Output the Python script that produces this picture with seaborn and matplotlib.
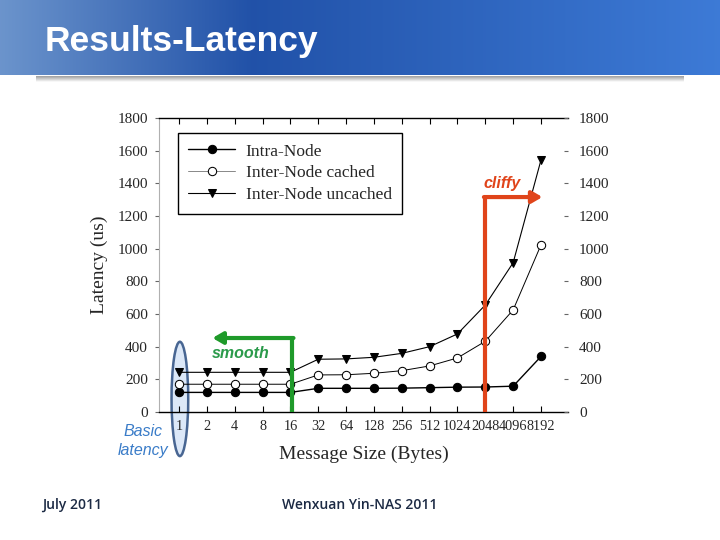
"""
Results-Latency slide: latency vs message size for intra-node and inter-node
transfers, with the slide header, footer and hand-drawn annotations.
"""

import numpy as np
import pandas as pd
import matplotlib
matplotlib.use('Agg')
import matplotlib.pyplot as plt
from matplotlib.patches import Ellipse
import seaborn as sns

# Data
SIZES = ['1', '2', '4', '8', '16', '32', '64', '128', '256', '512',
         '1024', '2048', '4096', '8192']
INTRA_NODE = [120, 120, 120, 120, 120, 145, 145, 145, 146, 149, 152, 153, 158, 340]
INTER_CACHED = [170, 170, 170, 170, 170, 227, 228, 237, 253, 282, 331, 433, 625, 1023]
INTER_UNCACHED = [243, 243, 243, 243, 243, 323, 325, 335, 359, 400, 478, 655, 914, 1543]
Y_TICKS = [0, 200, 400, 600, 800, 1000, 1200, 1400, 1600, 1800]

SERIF = ['Liberation Serif', 'DejaVu Serif']
SANS = ['Liberation Sans', 'DejaVu Sans']

sns.set_style('white')
plt.rcParams['font.family'] = SERIF

fig = plt.figure(figsize=(7.2, 5.4), dpi=100)

# Header band (blue gradient + grey shadow)
hdr = fig.add_axes([0, 1 - 75 / 540, 1, 75 / 540])
grad = np.linspace(0, 1, 256)
left = np.array([0.42, 0.58, 0.80])
mid = np.array([0.13, 0.32, 0.66])
right = np.array([0.24, 0.48, 0.84])
cols = np.where(grad[:, None] < 0.35,
                left + (mid - left) * (grad[:, None] / 0.35),
                mid + (right - mid) * ((grad[:, None] - 0.35) / 0.65))
hdr.imshow(cols[None, :, :], aspect='auto', extent=[0, 1, 0, 1])
hdr.set_axis_off()
shadow = fig.add_axes([0.05, 1 - 82 / 540, 0.9, 6 / 540])
sh = np.linspace(0.62, 1.0, 32)
shadow.imshow(np.repeat(sh[:, None], 2, axis=1)[:, :, None].repeat(3, axis=2),
              aspect='auto', extent=[0, 1, 0, 1])
shadow.set_axis_off()
fig.text(45 / 720, 1 - 42 / 540, 'Results-Latency', color='white',
         fontsize=25.5, fontweight='bold', family=SANS, va='center', ha='left')

# Main chart
ax = fig.add_axes([159 / 720, 1 - 412 / 540, 409 / 720, 294 / 540])
pos = np.arange(len(SIZES))
df = pd.DataFrame({'pos': pos, 'intra': INTRA_NODE,
                   'cached': INTER_CACHED, 'uncached': INTER_UNCACHED})

sns.lineplot(data=df, x='pos', y='intra', ax=ax, color='black', lw=1.0,
             marker='o', markersize=6, markerfacecolor='black',
             markeredgecolor='black', label='Intra-Node')
sns.lineplot(data=df, x='pos', y='cached', ax=ax, color='black', lw=0.7,
             marker='o', markersize=6, markerfacecolor='white',
             markeredgecolor='black', label='Inter-Node cached')
sns.lineplot(data=df, x='pos', y='uncached', ax=ax, color='black', lw=0.8,
             marker='v', markersize=6, markerfacecolor='black',
             markeredgecolor='black', label='Inter-Node uncached')

ax.set_xlim(-0.72, 13.97)
ax.set_ylim(0, 1800)
ax.set_xticks(pos)
ax.set_xticklabels(SIZES, fontsize=10.3)
ax.set_yticks(Y_TICKS)
ax.set_yticklabels([str(v) for v in Y_TICKS], fontsize=11)
ax.tick_params(axis='x', direction='in', length=4, top=True, bottom=True,
               labeltop=False, pad=6, color='black')
ax.tick_params(axis='y', direction='out', length=3, left=True, pad=5,
               color='#666666')
ax.set_xlabel('Message Size (Bytes)', fontsize=14, labelpad=9)
ax.set_ylabel('Latency (us)', fontsize=14, labelpad=7)
for side in ['bottom', 'top']:
    ax.spines[side].set_color('black')
    ax.spines[side].set_linewidth(1.0)
ax.spines['left'].set_color('#b0b0b0')
ax.spines['right'].set_visible(False)

ax2 = ax.twinx()
ax2.set_ylim(0, 1800)
ax2.set_yticks(Y_TICKS)
ax2.set_yticklabels([str(v) for v in Y_TICKS], fontsize=11)
ax2.tick_params(axis='y', direction='in', length=3, pad=8, color='#666666')
for side in ['left', 'right', 'top', 'bottom']:
    ax2.spines[side].set_visible(False)
ax2.grid(False)

leg = ax.legend(loc='upper left', bbox_to_anchor=(0.046, 0.949),
                borderaxespad=0, fancybox=False, edgecolor='black',
                framealpha=1, fontsize=12.5, handlelength=2.7,
                labelspacing=0.33, borderpad=0.6, handletextpad=0.6)
leg.get_frame().set_linewidth(1.0)
leg.get_lines()[1].set_color('#888888')
leg.get_lines()[1].set_markeredgecolor('black')

# Annotations
red = '#e0441a'
green = '#1f9a2a'
ax.plot([11, 11], [0, 1316], color=red, lw=3, solid_capstyle='butt',
        clip_on=False, zorder=5)
ax.annotate('', xy=(13.05, 1316), xytext=(10.95, 1316),
            arrowprops=dict(arrowstyle='-|>,head_length=0.6,head_width=0.35',
                            color=red, lw=3, shrinkA=0, shrinkB=0), zorder=5)
ax.text(11.6, 1400, 'cliffy', color=red, fontsize=11.5, style='italic',
        fontweight='bold', family=SANS, ha='center', va='center')

ax.plot([4.06, 4.06], [0, 453], color=green, lw=3, solid_capstyle='butt',
        clip_on=False, zorder=5)
ax.annotate('', xy=(1.2, 453), xytext=(4.11, 453),
            arrowprops=dict(arrowstyle='-|>,head_length=0.6,head_width=0.35',
                            color=green, lw=3, shrinkA=0, shrinkB=0), zorder=5)
ax.text(2.2, 360, 'smooth', color='#2a9a4a', fontsize=11.5, style='italic',
        fontweight='bold', family=SANS, ha='center', va='center')

ell = Ellipse((0.03, 80), width=0.6, height=700, facecolor='#d6e5f7',
              edgecolor='#2b4d80', lw=1.8, alpha=0.85, clip_on=False,
              zorder=0.3)
ax.add_patch(ell)

fig.text(143 / 720, 1 - 431 / 540, 'Basic', color='#3a7cc8', fontsize=11.5,
         style='italic', family=SANS, ha='center', va='center')
fig.text(143 / 720, 1 - 450 / 540, 'latency', color='#3a7cc8', fontsize=11.5,
         style='italic', family=SANS, ha='center', va='center')

# Footer
fig.text(42 / 720, 1 - 505 / 540, 'July 2011', color='#1c2a44', fontsize=10,
         fontweight='semibold', family=['Open Sans', 'DejaVu Sans'],
         ha='left', va='center')
fig.text(360 / 720, 1 - 505 / 540, 'Wenxuan Yin-NAS 2011', color='#1c2a44',
         fontsize=10, fontweight='semibold',
         family=['Open Sans', 'DejaVu Sans'], ha='center', va='center')

plt.savefig('out.png', dpi=100)
plt.close()
